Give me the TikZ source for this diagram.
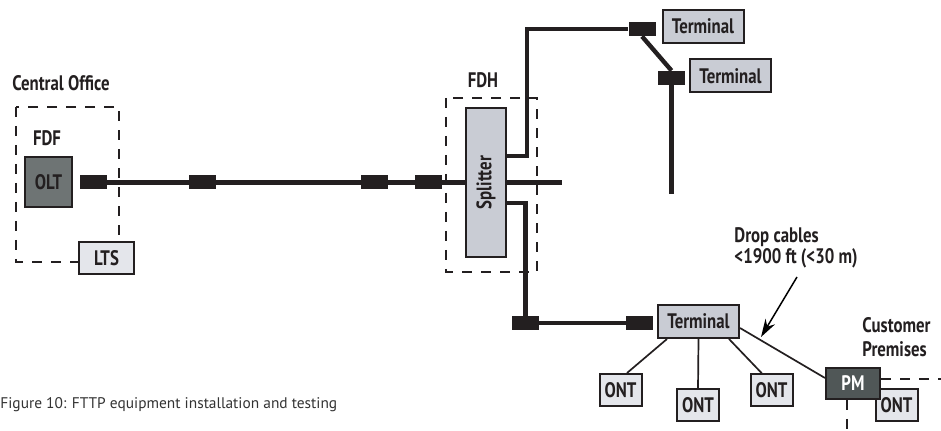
\documentclass[tikz,border=0pt]{standalone}
\usepackage{fontspec}
\setmainfont{PT Sans}
\newfontfamily\condfont[FakeStretch=0.8]{PT Sans}
\usetikzlibrary{arrows,arrows.meta,positioning}

\definecolor{inkblack}{HTML}{231F20}
\definecolor{oltgray}{HTML}{6E7474}
\definecolor{pmgray}{HTML}{505757}
\definecolor{termgray}{HTML}{C9CCD4}
\definecolor{ontgray}{HTML}{E4E6EB}

\begin{document}
\begin{tikzpicture}[x=0.5pt,y=-0.5pt,>=stealth']
	\tikzset{every node/.style={font=\condfont\bfseries\fontsize{10.5}{11}\selectfont,text=inkblack}}
	\tikzset{box/.style={draw=inkblack,line width=1pt,inner sep=0pt}}
	\tikzset{termbox/.style={box,fill=termgray,minimum width=40.5pt,minimum height=16.5pt}}
	\tikzset{ontbox/.style={box,fill=ontgray,minimum width=21pt,minimum height=16pt}}
	\tikzset{plug/.style={fill=inkblack,inner sep=0pt,minimum width=13.5pt,minimum height=7pt}}
	\tikzset{cable/.style={draw=inkblack,line width=2.2pt}}
	\tikzset{drop/.style={draw=inkblack,line width=0.85pt}}
	\tikzset{enclosure/.style={draw=inkblack,line width=0.75pt,dash pattern=on 5pt off 4.5pt}}
	\tikzset{note/.style={anchor=west,align=left,inner sep=0pt}}
	\useasboundingbox (0,0) rectangle (941,431);

	% central office
	\node[note] (co) at (12,83) {Central Office};
	\draw[enclosure] (16,107) rectangle (119,262);
	\node (fdf) at (47,138) {FDF};
	\node[box,fill=oltgray,minimum width=23.5pt,minimum height=25pt] (olt) at (48.5,182) {OLT};
	\node[box,fill=ontgray,minimum width=27.5pt,minimum height=16pt] (lts) at (106.5,258) {LTS};

	% feeder
	\node[plug] (b1) at (93.5,182.5) {};
	\node[plug] (b2) at (202.5,182.5) {};
	\node[plug] (b3) at (374.5,182.5) {};
	\node[plug] (b4) at (428.5,182.5) {};

	% fiber distribution hub
	\node (fdh) at (483,80) {FDH};
	\draw[enclosure] (446,98) rectangle (537,272);
	\node[box,fill=termgray,minimum width=20pt,minimum height=74.5pt,
		label={[rotate=90]center:Splitter}] (split) at (486,182.5) {};
	\coordinate (stub) at (562,182.5);

	% distribution terminals
	\node[plug] (t1) at (642,29) {};
	\node[termbox] (term1) at (703,26.5) {Terminal};
	\node[plug] (t2) at (671.5,78) {};
	\node[termbox] (term2) at (730.5,76) {Terminal};
	\coordinate (tend) at (671.5,194);
	\node[plug] (b5) at (525.5,323) {};
	\node[plug] (b6) at (639.5,323) {};
	\node[termbox] (term3) at (698.5,321.5) {Terminal};

	% cables
	\path[cable] (b1) -- (b2) -- (b3) -- (b4) -- (split.west);
	\path[cable] (split.east) -- (stub);
	\path[cable] ([yshift=13.25pt]split.east) -- ++(20,0) |- (t1.west);
	\path[cable] (t1.south) -- (t2.north);
	\path[cable] (t2) -- (tend);
	\path[cable] ([yshift=-10.25pt]split.east) -| (b5.north);
	\path[cable] (b5) -- (b6);

	% drops
	\node[ontbox] (ont1) at (620.5,390) {ONT};
	\node[ontbox] (ont2) at (698,405.5) {ONT};
	\node[ontbox] (ont3) at (771.5,390.5) {ONT};
	\node[ontbox] (ont4) at (896.5,405.5) {ONT};
	\node[box,fill=pmgray,text=white,minimum width=27pt,minimum height=15.5pt] (pm) at (853,383.5) {PM};
	\path[drop] ([xshift=-15.75pt]term3.south) -- ([xshift=3.25pt]ont1.north);
	\path[drop] (term3.south) -- (ont2.north);
	\path[drop] ([xshift=15.25pt]term3.south) -- ([xshift=-4.75pt]ont3.north);
	\path[drop] ([yshift=-3.25pt]term3.east) -- ([yshift=2.75pt]pm.west);

	% customer premises
	\node[note] (cp) at (862,337) {Customer\\[1pt]Premises};
	\coordinate (cpr) at (941,379);
	\coordinate (cpb) at (847,431);
	\draw[enclosure] ([yshift=2.25pt]pm.east) -- (cpr);
	\draw[enclosure] ([xshift=-3pt]pm.south) -- (cpb);

	% drop cable note
	\node[note] (dc) at (734,248) {Drop cables\\[-0.5pt]<1900 ft (<30 m)};
	\coordinate (arr) at (761,337);
	\draw[-{Stealth[length=9pt,width=5.5pt]},line width=0.75pt] (797,277) -- (arr);

	% caption
	\node[note,font=\fontsize{7.7}{9}\selectfont,text=black!80] (cap) at (0,405)
		{Figure 10: FTTP equipment installation and testing};
\end{tikzpicture}
\end{document}
